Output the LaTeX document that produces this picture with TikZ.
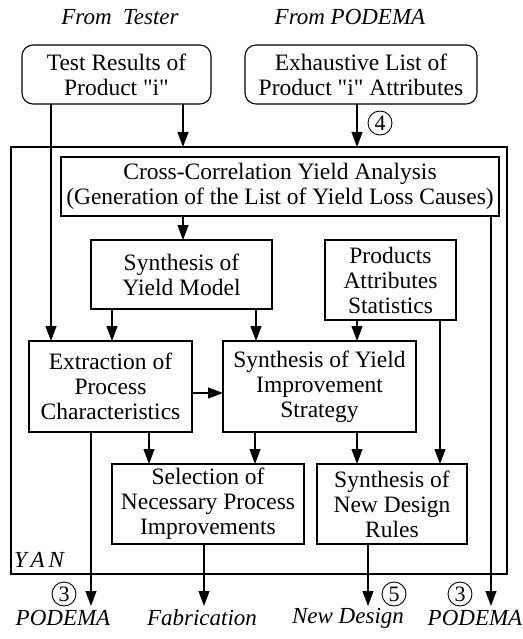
\documentclass[tikz,border=0pt]{standalone}
\usepackage{fontspec}
\setmainfont{Liberation Serif}
\newfontfamily\plainq{Liberation Serif}[Ligatures=ResetAll]
\newcommand{\sq}{{\plainq\symbol{34}}}
\usetikzlibrary{arrows.meta}
\begin{document}
\begin{tikzpicture}[x=1pt,y=-1pt,
  every node/.style={inner sep=0pt,outer sep=0pt},
  txt/.style={font=\fontsize{23.5}{25}\selectfont,align=center},
  box/.style={txt,draw,line width=1.1pt},
  srcbox/.style={box,rounded corners=11pt},
  lbl/.style={font=\fontsize{23}{24}\selectfont\itshape},
  num/.style={circle,draw,line width=0.9pt,minimum size=24pt,font=\fontsize{22}{22}\selectfont},
  link/.style={line width=1.1pt},
  arr/.style={link,-{Triangle[length=15pt,width=11pt]}}]
\useasboundingbox (0,0) rectangle (522,639);
% outer YAN box
\node[draw,line width=1.1pt,minimum width=496pt,minimum height=427pt] (yan) at (259,360.5) {};
\node[lbl,anchor=west] (yanlbl) at (14,560) {Y\,A\,N};
% top labels
\node[lbl] (ft) at (120,17) {From\ \ Tester};
\node[lbl] (fp) at (350,17) {From PODEMA};
% boxes
\node[srcbox,minimum width=189pt,minimum height=59pt] (tr) at (116.5,74.5) {Test Results of\\Product \sq i\sq};
\node[srcbox,minimum width=232pt,minimum height=59pt] (ex) at (361,74.5) {Exhaustive List of\\Product \sq i\sq{} Attributes};
\node[box,line width=1.3pt,minimum width=438pt,minimum height=59pt] (cc) at (280,186.5) {Cross-Correlation Yield Analysis\\(Generation of the List of Yield Loss Causes)};
\node[box,minimum width=181pt,minimum height=69pt] (ym) at (181.5,274.5) {Synthesis of\\Yield Model};
\node[box,minimum width=131pt,minimum height=80pt] (pa) at (390.5,280) {Products\\Attributes\\Statistics};
\node[box,minimum width=163pt,minimum height=91pt] (ep) at (110.5,386.5) {Extraction of\\Process\\Characteristics};
\node[box,minimum width=193pt,minimum height=91pt] (ys) at (319.5,386.5) {Synthesis of Yield\\Improvement\\Strategy};
\node[box,minimum width=192pt,minimum height=80pt] (sp) at (208,504) {Selection of\\Necessary Process\\Improvements};
\node[box,minimum width=150pt,minimum height=80pt] (nd) at (392,504) {Synthesis of\\New Design\\Rules};
% bottom labels
\node[lbl] (b1) at (63,618) {PODEMA};
\node[lbl] (b2) at (202,618) {Fabrication};
\node[lbl] (b3) at (348,618) {New Design};
\node[lbl] (b4) at (475,618) {PODEMA};
% numbered circles
\node[num] (n4) at (380,123) {4};
\node[num] (n3a) at (64,594) {3};
\node[num] (n5) at (394,594) {5};
\node[num] (n3b) at (460,594) {3};
% free ends
\coordinate (e1) at (91,606);
\coordinate (e2) at (204,606);
\coordinate (e3) at (368,606);
\coordinate (e4) at (491,606);
% connectors
\draw[arr] (tr.south -| 51,0) -- (ep.north -| 51,0);
\draw[arr] (tr.south -| 183,0) -- (yan.north -| 183,0);
\draw[arr] (ex.south -| 357,0) -- (yan.north -| 357,0);
\draw[arr] (cc.south -| 183,0) -- (ym.north -| 183,0);
\draw[arr] (ym.south -| 112,0) -- (ep.north -| 112,0);
\draw[arr] (ym.south -| 256,0) -- (ys.north -| 256,0);
\draw[arr] (pa.south -| 357,0) -- (ys.north -| 357,0);
\draw[arr] (pa.south -| 440,0) -- (nd.north -| 440,0);
\draw[arr] (cc.south -| e4) -- (e4);
\draw[arr] (ep.east |- 0,393) -- (ys.west |- 0,393);
\draw[arr] (ep.south -| e1) -- (e1);
\draw[arr] (ep.south -| 149,0) -- (sp.north -| 149,0);
\draw[arr] (ys.south -| 255,0) -- (sp.north -| 255,0);
\draw[arr] (ys.south -| 357,0) -- (nd.north -| 357,0);
\draw[arr] (sp.south -| e2) -- (e2);
\draw[arr] (nd.south -| e3) -- (e3);
\end{tikzpicture}
\end{document}
